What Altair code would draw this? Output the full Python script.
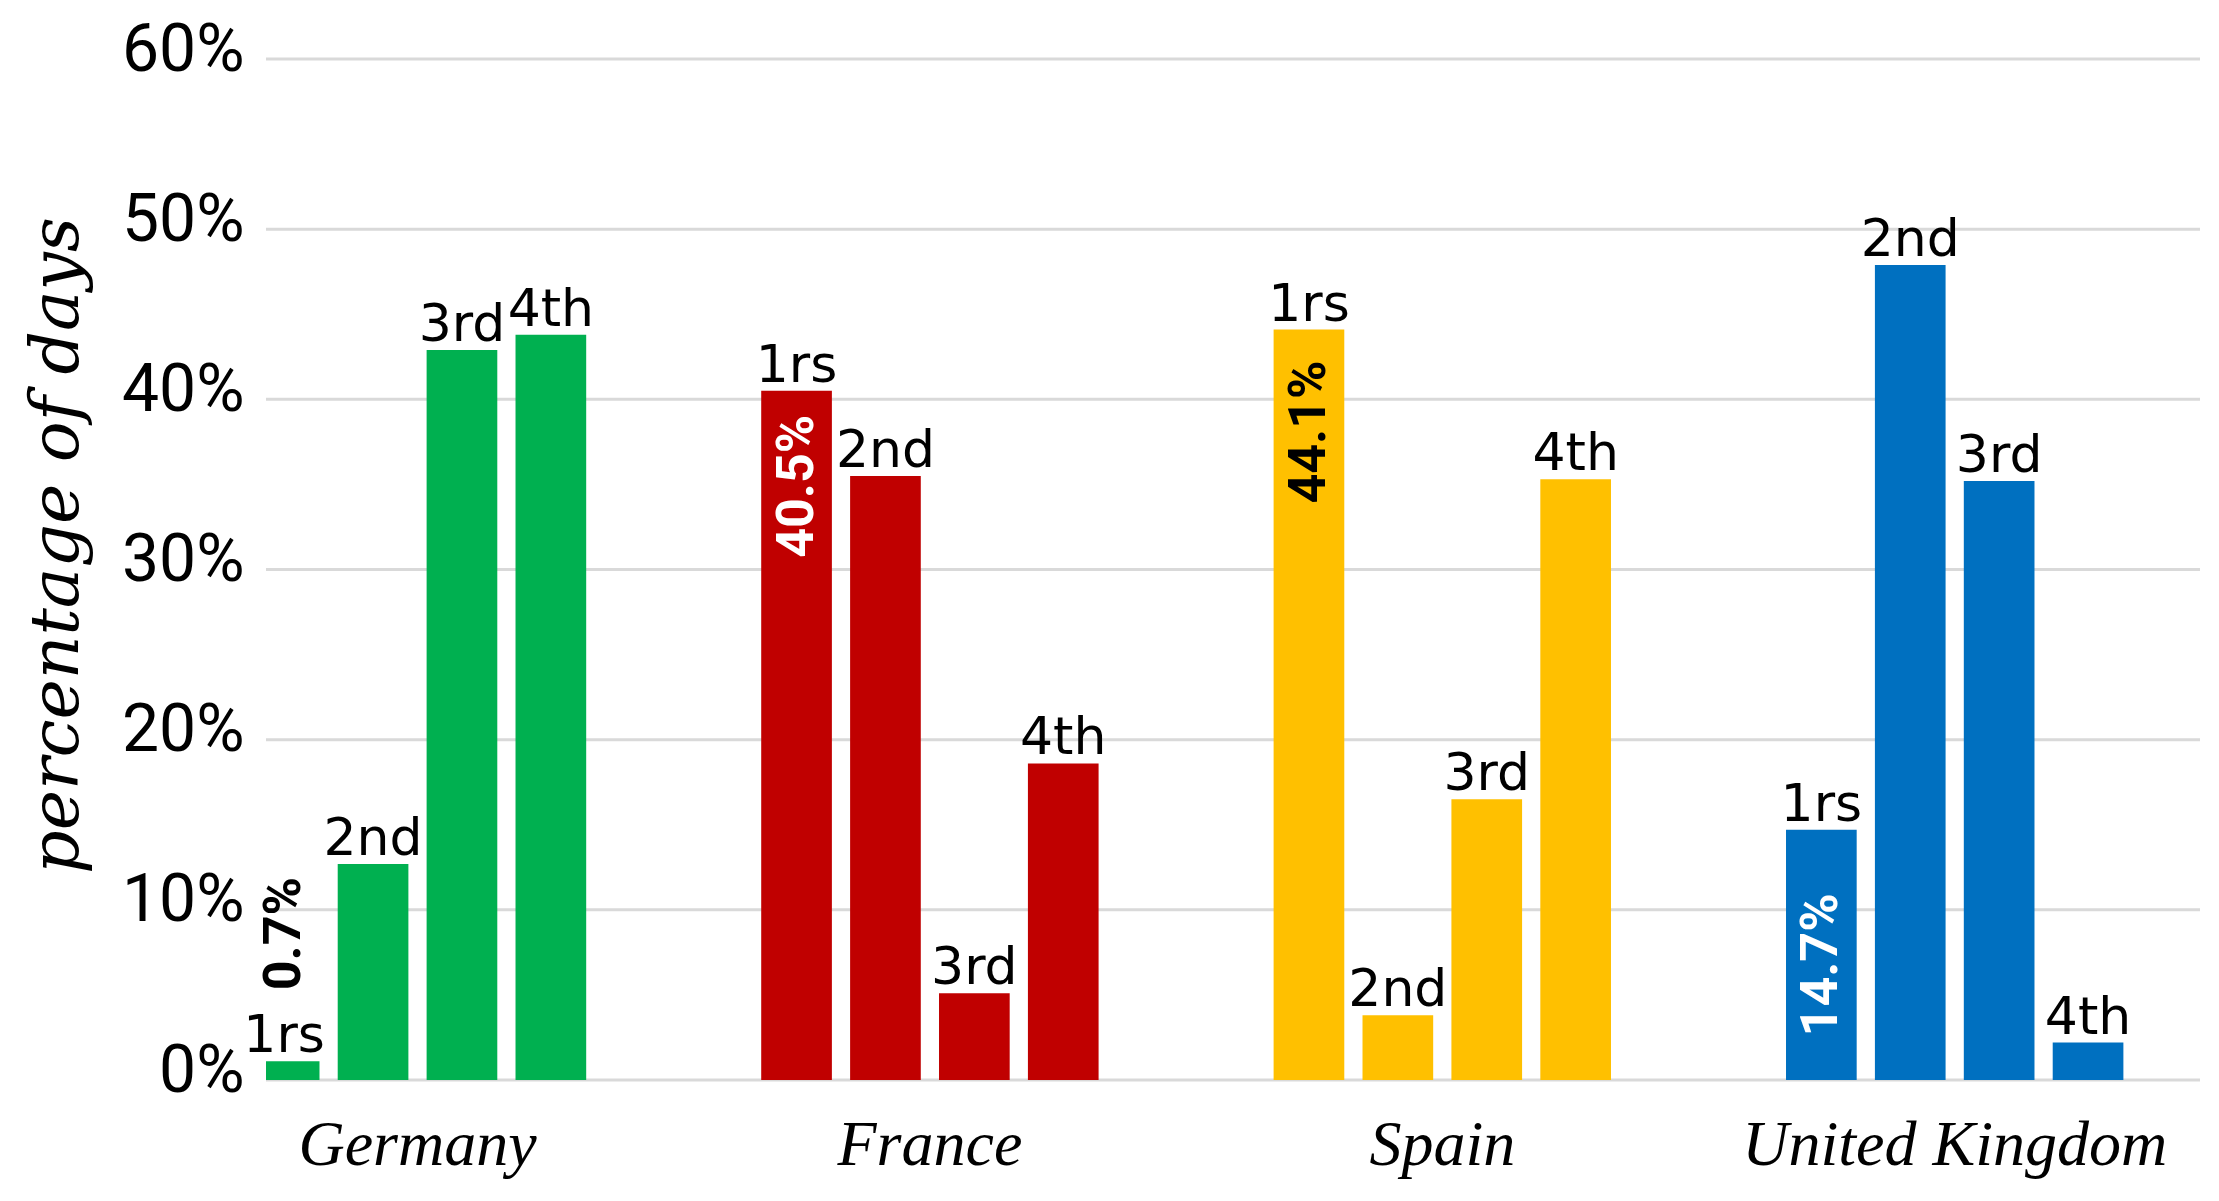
import altair as alt
import pandas as pd

countries = ["Germany", "France", "Spain", "United Kingdom"]
ranks = ["1rs", "2nd", "3rd", "4th"]
germany = [1.1, 12.7, 42.9, 43.8]
france = [40.5, 35.5, 5.1, 18.6]
spain = [44.1, 3.8, 16.5, 35.3]
uk = [14.7, 47.9, 35.2, 2.2]
first_rank_labels = ["0.7%", "40.5%", "44.1%", "14.7%"]
colors = ["#00B050", "#C00000", "#FFC000", "#0070C0"]
y_ticks = [0, 10, 20, 30, 40, 50, 60]

rows = []
for c, vals, lab in zip(countries, [germany, france, spain, uk], first_rank_labels):
    for r, v in zip(ranks, vals):
        rows.append({"country": c, "rank": r, "value": v, "vlabel": lab})
df = pd.DataFrame(rows)
ticks_df = pd.DataFrame({"tick": y_ticks})

W, H = 1934, 1021

x_scale = alt.Scale(domain=countries, range=[-26.3, 1866.5], paddingInner=0.306, paddingOuter=0)
xo_scale = alt.Scale(domain=ranks, paddingInner=0.205, paddingOuter=0.1025)
y_scale = alt.Scale(domain=[0, 60], nice=False, zero=True)

y_axis = alt.Axis(title="percentage of days", values=y_ticks,
                  labelExpr="datum.value + '%'", grid=False, domain=False,
                  ticks=False, tickSize=0, labelFont="Roboto",
                  labelFontSize=66, labelColor="black", labelPadding=22,
                  labelOffset=-9,
                  titleFont="DejaVu Serif", titleFontStyle="italic",
                  titleFontWeight="normal", titleFontSize=68,
                  titleColor="black", titleAngle=270, titleX=-209,
                  titleY=486, titleAlign="center", titleBaseline="middle")

grid = alt.Chart(ticks_df).mark_rule(color="#D9D9D9", strokeWidth=3).encode(
    y=alt.Y("tick:Q", scale=y_scale, axis=y_axis),
    x=alt.value(0), x2=alt.value(W),
)

base = alt.Chart(df).encode(
    x=alt.X("country:N", sort=countries, scale=x_scale,
            axis=alt.Axis(title=None, labelAngle=0, labelFont="Liberation Serif",
                          labelFontStyle="italic", labelFontSize=64, labelColor="black",
                          labelPadding=33, labelBaseline="top", labelLimit=1000,
                          ticks=False, domain=False, grid=False)),
    xOffset=alt.XOffset("rank:N", sort=ranks, scale=xo_scale),
)

bars = base.mark_bar(clip=True).encode(
    y=alt.Y("value:Q", scale=y_scale, axis=y_axis),
    color=alt.Color("country:N", scale=alt.Scale(domain=countries, range=colors), legend=None),
)

rank_text = base.mark_text(font="DejaVu Sans", fontSize=52, baseline="alphabetic",
                           dy=-9, color="black").encode(
    y=alt.Y("value:Q", scale=y_scale, axis=y_axis),
    text="rank:N",
)

vfont = dict(font="Roboto", fontWeight="bold", fontSize=52, angle=270, baseline="middle")

first = base.transform_filter(alt.datum.rank == "1rs")

ger_lab = first.transform_filter(alt.datum.country == "Germany").mark_text(
    align="left", dx=71, color="black", **vfont).encode(
    y=alt.Y("value:Q", scale=y_scale, axis=y_axis), text="vlabel:N")
fra_lab = first.transform_filter(alt.datum.country == "France").mark_text(
    align="right", dx=-24, color="white", **vfont).encode(
    y=alt.Y("value:Q", scale=y_scale, axis=y_axis), text="vlabel:N")
spa_lab = first.transform_filter(alt.datum.country == "Spain").mark_text(
    align="right", dx=-31, color="black", **vfont).encode(
    y=alt.Y("value:Q", scale=y_scale, axis=y_axis), text="vlabel:N")
uk_lab = first.transform_filter(alt.datum.country == "United Kingdom").transform_calculate(
    half="datum.value / 2").mark_text(align="center", dx=-10, color="white", **vfont).encode(
    y=alt.Y("half:Q", scale=y_scale, axis=y_axis), text="vlabel:N")

chart = alt.layer(grid, bars, rank_text, ger_lab, fra_lab, spa_lab, uk_lab).properties(
    width=W, height=H,
    padding={"left": 258, "top": 51, "right": 11, "bottom": 113},
    autosize=alt.AutoSizeParams(type="none"),
    background="white",
).configure_view(stroke=None)

chart.save("out.html", embed_options={"renderer": "svg", "actions": False})
